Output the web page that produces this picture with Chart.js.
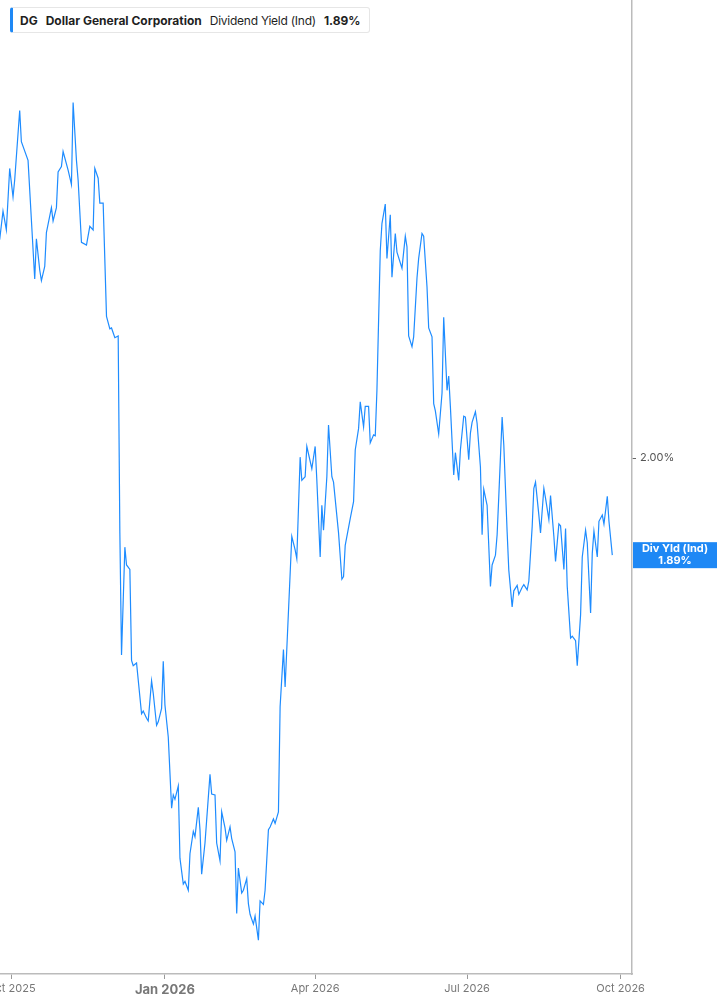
<!DOCTYPE html>
<html>
<head>
<meta charset="utf-8">
<script src="https://cdn.jsdelivr.net/npm/chart.js@4.4.1/dist/chart.umd.min.js"></script>
<style>
  html, body { margin: 0; padding: 0; background: #fff; }
  #wrap { position: relative; width: 717px; height: 1005px; }
  #legend {
    position: absolute; left: 10px; top: 7px; height: 26px;
    display: flex; align-items: center; gap: 8px;
    padding: 0 8px 0 7px; box-sizing: border-box;
    border: 1px solid #e6e6e6; border-left: 3px solid #1e88f5; border-radius: 3px;
    font: 12px Inter, sans-serif; color: #1f1f1f; background: #fff;
  }
  #legend b { font-weight: 700; }
  #legend span { letter-spacing: -0.25px; }
</style>
</head>
<body>
<div id="wrap">
  <canvas id="yieldChart"></canvas>
  <div id="legend"><b>DG</b><b>Dollar General Corporation</b><span>Dividend Yield (Ind)</span><b id="legendValue"></b></div>
</div>
<script>
// days counted from 2025-10-01, dividend yield in %
const dayOffsets = [
  -7, -5, -3, -1, 1, 2, 5, 6, 10, 14, 15, 17, 18, 20, 21, 24, 25, 27, 28, 30,
  31, 34, 36, 37, 39, 40, 42, 45, 47, 49, 50, 52, 53, 55, 57, 59, 60, 62, 64, 65,
  66, 68, 69, 71, 72, 73, 75, 78, 79, 81, 82, 84, 85, 87, 88, 90, 91, 92, 94, 96,
  97, 98, 100, 101, 103, 104, 106, 107, 109, 110, 112, 113, 114, 116, 119, 120, 122, 123, 125, 126,
  128, 129, 131, 132, 134, 135, 136, 138, 139, 141, 142, 143, 145, 146, 148, 149, 151, 152, 154, 155,
  157, 158, 160, 161, 163, 164, 168, 170, 171, 173, 174, 176, 177, 180, 182, 183, 185, 186, 187, 189,
  190, 192, 193, 196, 198, 199, 200, 203, 205, 206, 208, 209, 211, 212, 214, 215, 217, 218, 219, 221,
  222, 224, 225, 227, 228, 230, 231, 234, 236, 237, 238, 240, 241, 243, 244, 246, 247, 249, 250, 252,
  253, 254, 256, 258, 259, 261, 262, 263, 265, 266, 268, 269, 271, 272, 274, 275, 276, 278, 279, 281,
  282, 283, 285, 287, 288, 290, 291, 292, 294, 295, 297, 298, 300, 301, 303, 304, 306, 307, 309, 310,
  312, 313, 314, 316, 317, 319, 320, 322, 323, 325, 326, 328, 329, 331, 332, 333, 335, 336, 338, 339,
  341, 342, 344, 345, 347, 348, 349, 351, 352, 354, 355, 357, 358, 360
];
const divYield = [
  2.245, 2.277, 2.256, 2.325, 2.293, 2.312, 2.390, 2.355, 2.334, 2.201, 2.246, 2.211, 2.199, 2.215, 2.253, 2.281, 2.266, 2.281, 2.321, 2.327,
  2.344, 2.323, 2.307, 2.399, 2.334, 2.312, 2.242, 2.239, 2.260, 2.256, 2.325, 2.314, 2.286, 2.286, 2.159, 2.145, 2.146, 2.135, 2.137, 1.916,
  1.779, 1.900, 1.880, 1.875, 1.773, 1.767, 1.770, 1.713, 1.716, 1.708, 1.705, 1.750, 1.736, 1.700, 1.704, 1.719, 1.772, 1.723, 1.687, 1.607,
  1.622, 1.617, 1.632, 1.551, 1.522, 1.525, 1.515, 1.556, 1.581, 1.575, 1.608, 1.583, 1.533, 1.568, 1.645, 1.623, 1.622, 1.568, 1.548, 1.603,
  1.585, 1.571, 1.586, 1.573, 1.558, 1.489, 1.540, 1.512, 1.515, 1.528, 1.500, 1.488, 1.477, 1.486, 1.459, 1.503, 1.499, 1.515, 1.583, 1.586,
  1.595, 1.590, 1.603, 1.721, 1.785, 1.743, 1.912, 1.897, 1.887, 2.001, 1.975, 1.979, 2.013, 1.988, 2.013, 1.975, 1.889, 1.947, 1.919, 1.979,
  2.037, 1.979, 1.973, 1.916, 1.864, 1.867, 1.902, 1.932, 1.951, 2.009, 2.033, 2.063, 2.035, 2.058, 2.058, 2.017, 2.026, 2.025, 2.076, 2.233,
  2.263, 2.285, 2.224, 2.273, 2.203, 2.252, 2.231, 2.213, 2.249, 2.237, 2.137, 2.125, 2.136, 2.202, 2.224, 2.252, 2.249, 2.192, 2.146, 2.136,
  2.061, 2.053, 2.027, 2.073, 2.158, 2.076, 2.092, 2.058, 1.981, 2.006, 1.975, 2.009, 2.047, 2.046, 1.998, 2.028, 2.040, 2.052, 2.039, 1.990,
  1.914, 1.965, 1.947, 1.856, 1.880, 1.891, 1.914, 1.957, 2.046, 2.015, 1.917, 1.874, 1.833, 1.851, 1.857, 1.847, 1.855, 1.858, 1.852, 1.862,
  1.923, 1.966, 1.973, 1.936, 1.916, 1.966, 1.955, 1.931, 1.958, 1.912, 1.884, 1.926, 1.924, 1.875, 1.921, 1.856, 1.798, 1.800, 1.795, 1.767,
  1.824, 1.889, 1.919, 1.905, 1.826, 1.893, 1.918, 1.889, 1.929, 1.936, 1.926, 1.957, 1.929, 1.891
];
const tickDays = [0, 92, 182, 273, 365];
const tickLabels = ['Oct 2025', 'Jan 2026', 'Apr 2026', 'Jul 2026', 'Oct 2026'];
const yTicks = [2.0];

const lineBlue = '#1e8cff';
const lastValue = divYield[divYield.length - 1];
const pct = (v) => v.toFixed(2) + '%';

document.getElementById('legendValue').textContent = pct(lastValue);

const lastLabel = {
  id: 'lastLabel',
  afterDraw(chart) {
    const { ctx, chartArea, scales } = chart;
    const py = scales.y.getPixelForValue(lastValue);
    const left = chartArea.right + 1;
    const cx = (left + chart.width) / 2;
    ctx.save();
    ctx.fillStyle = '#1e88f5';
    ctx.fillRect(left, py - 13, chart.width - left, 26);
    ctx.fillStyle = '#fff';
    ctx.font = 'bold 11px Inter, sans-serif';
    ctx.textAlign = 'center';
    ctx.textBaseline = 'middle';
    ctx.fillText('Div Yld (Ind)', cx, py - 6);
    ctx.fillText(pct(lastValue), cx, py + 6);
    ctx.restore();
  }
};

new Chart(document.getElementById('yieldChart'), {
  type: 'line',
  data: {
    datasets: [{
      label: 'Dividend Yield (Ind)',
      data: dayOffsets.map((d, i) => ({ x: d, y: divYield[i] })),
      borderColor: lineBlue,
      borderWidth: 1.2,
      pointRadius: 0,
      tension: 0,
      fill: false
    }]
  },
  options: {
    responsive: true,
    maintainAspectRatio: false,
    animation: false,
    layout: { padding: 0 },
    plugins: { legend: { display: false }, tooltip: { enabled: false } },
    scales: {
      x: {
        type: 'linear',
        min: -6.8,
        max: 371.8,
        afterBuildTicks: (axis) => { axis.ticks = tickDays.map((v) => ({ value: v })); },
        afterFit: (axis) => { axis.paddingLeft = 0; axis.paddingRight = 0; axis.height = 31; },
        grid: { drawOnChartArea: false, tickLength: 5, color: '#999' },
        border: { color: '#bbb', width: 1.5 },
        ticks: {
          autoSkip: false,
          maxRotation: 0,
          padding: 3,
          color: '#777',
          callback: (v, i) => tickLabels[i],
          font: (c) => (c.index === 1 ? { family: 'Inter', size: 13, weight: 'bold' } : { family: 'Inter', size: 11 })
        }
      },
      y: {
        position: 'right',
        min: 1.421,
        max: 2.514,
        afterBuildTicks: (axis) => { axis.ticks = yTicks.map((v) => ({ value: v })); },
        afterFit: (axis) => { axis.width = 85; axis.paddingTop = 0; axis.paddingBottom = 0; },
        grid: { drawOnChartArea: false, tickLength: 4, color: '#666' },
        border: { color: '#bbb', width: 1.5 },
        ticks: {
          padding: 4,
          color: '#555',
          font: { family: 'Inter', size: 11 },
          callback: (v) => pct(v)
        }
      }
    }
  },
  plugins: [lastLabel]
});
</script>
</body>
</html>
